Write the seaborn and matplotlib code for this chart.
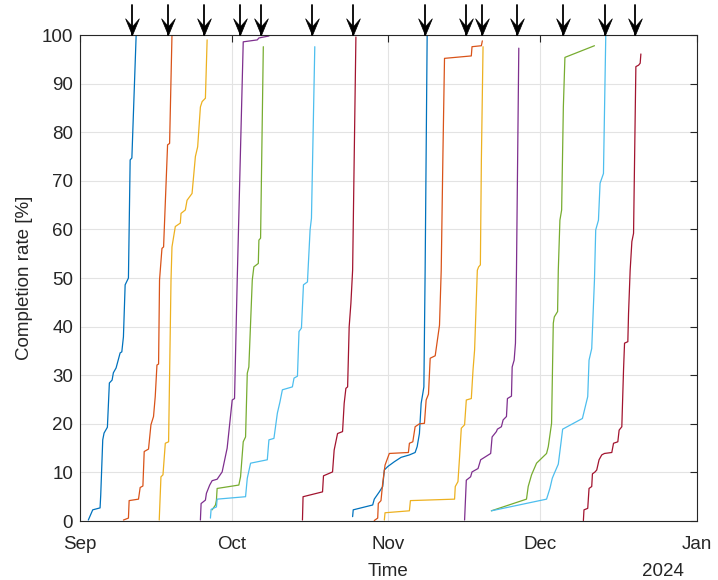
import numpy as np
import pandas as pd
import matplotlib
matplotlib.use("Agg")
import matplotlib.pyplot as plt
import matplotlib.dates as mdates
import seaborn as sns

start = pd.Timestamp("2024-09-01")
end = pd.Timestamp("2025-01-01")

# days after Sep 1 for each recorded point, one list per task
days = [
    [1.65, 2.52, 3.97, 4.1, 4.5, 4.76, 5.42, 5.81, 6.35, 6.6, 7.14, 7.94, 8.27, 8.59, 8.93, 9.58, 9.92, 10.26, 11.1],
    [8.59, 9.58, 9.72, 11.57, 11.9, 12.44, 12.7, 13.55, 14.03, 14.54, 14.88, 15.22, 15.54, 15.73, 16.21, 16.53, 17.32, 17.72, 18.19],
    [15.67, 16.01, 16.41, 16.87, 17.52, 18.0, 18.19, 18.85, 19.84, 19.98, 20.83, 21.17, 22.16, 22.82, 23.27, 23.81, 24.15, 24.8, 25.14],
    [23.81, 23.95, 24.8, 25.0, 25.65, 26.13, 27.12, 28.11, 29.1, 30.1, 30.56, 31.09, 32.28, 35.06, 35.38, 37.36],
    [26.13, 26.79, 26.98, 27.12, 31.41, 31.75, 32.28, 32.74, 33.08, 33.39, 34.07, 34.38, 35.26, 35.38, 35.71, 36.25],
    [25.79, 25.93, 26.98, 27.12, 32.74, 33.08, 33.73, 37.04, 37.36, 38.35, 39.03, 39.54, 40.02, 42.0, 42.32, 43.0,
     43.31, 43.79, 44.19, 44.98, 45.5, 45.77, 46.43],
    [43.99, 44.11, 47.96, 48.15, 49.94, 50.26, 50.93, 51.92, 52.24, 52.58, 52.92, 53.23, 53.57, 53.91, 54.56],
    [53.91, 54.03, 57.88, 58.19, 59.19, 59.86, 60.18, 60.85, 62.16, 63.49, 65.14, 66.27, 66.67, 67.12, 67.46, 67.8,
     68.0, 68.25, 68.65],
    [58.19, 58.87, 58.99, 59.52, 59.86, 60.32, 61.17, 64.94, 65.14, 65.81, 66.27, 67.12, 68.11, 68.45, 68.91, 69.25,
     70.24, 70.63, 71.09, 71.43, 71.77, 72.08, 77.38, 77.52, 79.37, 79.56],
    [60.18, 60.32, 65.14, 65.34, 74.07, 74.21, 74.74, 75.06, 75.4, 76.05, 76.39, 77.38, 77.72, 78.03, 78.57, 78.83,
     79.17, 79.37, 79.7],
    [76.05, 76.39, 77.24, 77.52, 78.71, 79.23, 81.21, 81.49, 82.34, 82.54, 83.33, 83.67, 84.33, 84.52, 85.32, 85.46,
     85.85, 86.11, 86.31, 86.77],
    [81.35, 88.29, 88.63, 89.29, 90.28, 92.26, 92.6, 93.25, 93.59, 93.79, 94.44, 94.58, 94.9, 95.24, 95.58, 95.89, 101.73],
    [81.35, 92.26, 92.92, 93.39, 93.79, 94.58, 95.1, 95.44, 99.35, 100.4, 100.66, 101.19, 101.73, 101.98, 102.52,
     102.84, 103.51, 103.97],
    [99.54, 99.66, 100.4, 100.66, 101.19, 101.33, 101.85, 102.18, 102.64, 103.17, 103.71, 105.16, 105.5, 106.35,
     106.61, 107.14, 107.48, 107.68, 108.33, 108.47, 108.79, 109.13, 109.46, 109.92, 110.46, 110.77, 110.91],
]

# completion rate [%] at those points
pct = [
    [0.2, 2.3, 2.7, 5.3, 16.7, 18.1, 19.3, 28.4, 29.0, 30.5, 31.5, 34.6, 34.8, 37.9, 48.6, 50.0, 74.3, 74.7, 99.8],
    [0.2, 0.6, 4.2, 4.5, 6.9, 7.2, 14.3, 14.8, 19.8, 21.5, 25.6, 32.1, 32.3, 49.6, 56.1, 56.4, 77.4, 77.7, 100.0],
    [0.2, 9.1, 9.5, 16.0, 16.3, 49.6, 56.4, 60.6, 61.3, 63.3, 64.0, 66.0, 67.4, 75.0, 77.0, 85.2, 86.3, 87.0, 99.0],
    [0.2, 3.6, 4.3, 5.7, 7.4, 8.3, 8.6, 10.1, 15.0, 24.9, 25.2, 49.6, 98.6, 99.0, 99.4, 99.8],
    [2.3, 3.3, 4.3, 6.7, 7.4, 9.1, 16.3, 17.3, 30.4, 31.7, 49.6, 52.3, 53.0, 57.8, 58.2, 97.6],
    [0.6, 2.4, 2.9, 4.5, 5.0, 8.8, 11.9, 12.6, 16.7, 17.0, 22.2, 24.5, 27.0, 27.6, 29.4, 29.8,
     39.0, 39.7, 48.6, 49.2, 59.9, 62.3, 97.6],
    [0.2, 5.0, 6.0, 9.3, 10.1, 14.6, 18.0, 18.4, 24.2, 27.3, 27.6, 40.0, 44.8, 51.6, 99.6],
    [0.9, 2.3, 3.3, 4.5, 6.0, 7.1, 10.5, 11.2, 12.2, 13.1, 13.6, 14.1, 15.3, 18.0, 24.2, 26.3,
     27.6, 51.6, 100.0],
    [0.1, 0.6, 3.6, 4.2, 7.8, 11.5, 13.9, 14.1, 16.0, 16.3, 19.4, 20.0, 20.1, 24.9, 26.1, 33.5,
     34.0, 36.9, 40.3, 51.6, 75.7, 95.2, 95.7, 97.6, 97.8, 98.8],
    [0.2, 1.7, 2.1, 4.2, 4.5, 7.1, 8.1, 13.2, 19.1, 19.8, 24.9, 25.2, 31.1, 35.2, 51.6, 52.3,
     52.7, 74.3, 97.6],
    [0.2, 8.4, 9.1, 10.1, 10.8, 12.6, 13.9, 17.3, 18.4, 18.9, 19.4, 20.8, 21.5, 25.2, 25.7, 31.7,
     33.1, 36.6, 51.6, 97.3],
    [2.1, 4.5, 7.1, 9.5, 11.9, 13.9, 15.3, 20.1, 40.7, 42.0, 43.1, 51.6, 61.9, 64.0, 85.2, 95.4, 97.8],
    [2.1, 4.5, 6.7, 8.8, 9.8, 11.7, 16.0, 18.9, 21.1, 25.6, 33.1, 35.5, 49.6, 59.9, 61.9,
     69.5, 71.5, 100.0],
    [0.1, 2.3, 2.6, 6.7, 7.1, 9.7, 10.1, 10.5, 12.6, 13.6, 13.9, 14.1, 16.0, 16.3,
     18.7, 19.4, 31.1, 36.6, 36.9, 42.7, 51.6, 57.5, 59.2, 93.5, 93.8, 94.2, 96.1],
]

# deadlines (arrows on top), days after Sep 1
deadline_days = [10.26, 17.32, 24.46, 31.6, 35.7, 45.8, 53.9, 68.25, 76.25, 79.4, 86.5, 95.6, 103.8, 109.8]

matlab_colors = ["#0072BD", "#D95319", "#EDB120", "#7E2F8E", "#77AC30", "#4DBEEE", "#A2142F"]

rows = []
for i, (d, p) in enumerate(zip(days, pct)):
    for dd, pp in zip(d, p):
        rows.append({"task": f"T{i+1}", "time": start + pd.Timedelta(days=dd), "rate": pp})
df = pd.DataFrame(rows)
palette = {f"T{i+1}": matlab_colors[i % 7] for i in range(len(days))}

sns.set_style("white")
plt.rcParams["font.family"] = ["Liberation Sans", "DejaVu Sans"]
ink = "#262626"

fig = plt.figure(figsize=(7.18, 5.80), dpi=100)
ax = fig.add_axes([0.1114, 0.1017, 0.8593, 0.8379])

sns.lineplot(data=df, x="time", y="rate", hue="task", palette=palette,
             estimator=None, sort=False, legend=False, lw=0.9, ax=ax)

# deadline arrows above the axes
arrow_head = [(0, 0), (-7, 17), (0, 9), (7, 17), (0, 0)]
for dd in deadline_days:
    t = start + pd.Timedelta(days=dd)
    ax.plot([t, t], [100, 106.2], color="k", lw=1.3, clip_on=False, zorder=5)
    ax.plot([t], [100], marker=arrow_head, markersize=24, color="k", mec="k", mew=0.5,
            clip_on=False, zorder=6, ls="none")

ax.set_xlim(start, end)
ax.set_ylim(0, 100)
ax.set_yticks(np.arange(0, 101, 10))
ax.xaxis.set_major_locator(mdates.MonthLocator())
ax.xaxis.set_major_formatter(mdates.DateFormatter("%b"))

ax.grid(True, color="#e3e3e3", lw=0.8)
ax.set_axisbelow(True)
for s in ax.spines.values():
    s.set_visible(True)
    s.set_color(ink)
    s.set_linewidth(0.8)
ax.tick_params(direction="in", top=True, right=True, length=5, width=0.8, color=ink,
               labelcolor=ink, labelsize=13.5)
ax.tick_params(axis="x", pad=11)
ax.tick_params(axis="y", pad=5)

ax.set_xlabel("Time", fontsize=13.5, color=ink, labelpad=7)
ax.set_ylabel("Completion rate [%]", fontsize=13.5, color=ink, labelpad=6)
fig.text(663 / 718, 1 - 571 / 580, "2024", ha="center", va="center", fontsize=13.5, color=ink)

fig.savefig("out.png", dpi=100)
